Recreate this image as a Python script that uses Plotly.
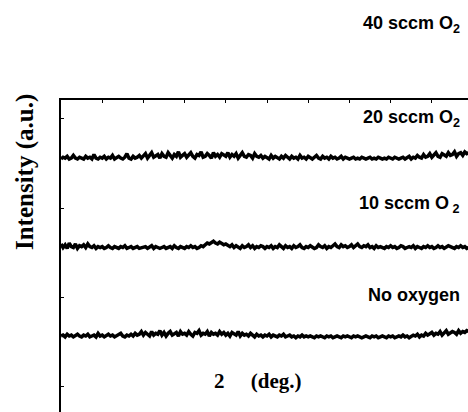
import numpy as np
import plotly.graph_objects as go

# 2-theta scan grid (deg), step 0.25
two_theta = np.round(np.arange(20.0, 70.0, 0.25), 2)

# Intensity (a.u., offset traces)
i_20sccm = [
    255,257,256,258,255,256,259,256,255,257,256,255,258,256,257,255,260,256,255,257,
    256,258,255,257,256,259,255,256,258,256,255,257,261,256,255,258,256,257,259,256,
    258,261,256,259,262,257,258,260,256,261,258,257,262,259,256,260,258,263,257,259,
    261,257,259,262,258,256,260,259,263,257,258,261,259,256,262,258,260,257,261,259,
    258,262,257,260,258,261,256,259,262,258,257,260,259,256,261,258,257,259,256,258,
    257,255,259,256,258,257,255,258,256,259,257,255,258,256,257,255,259,256,257,255,
    258,256,255,257,259,256,255,258,256,257,255,258,256,257,255,256,258,255,257,256,
    255,256,257,255,256,255,257,256,255,256,257,255,256,255,257,256,255,256,255,257,
    256,255,257,256,255,256,257,255,256,258,255,257,256,259,257,256,260,257,258,261,
    257,259,262,258,257,261,259,258,262,259,260,263,258,261,262,259,263,261,262,260,
]

i_10sccm = [
    160,156,159,155,161,157,156,160,155,158,157,159,156,160,157,156,158,155,157,156,
    157,155,156,158,156,155,157,156,155,157,156,158,155,156,157,155,156,157,155,156,
    156,157,155,156,158,155,157,156,155,156,157,155,156,157,155,158,156,155,157,156,
    155,157,156,158,156,157,155,156,158,157,159,161,160,162,163,161,160,162,161,159,
    160,158,157,159,156,158,157,155,158,156,157,159,156,158,155,157,156,158,157,155,
    157,156,158,155,157,156,159,157,155,158,156,157,155,158,156,157,159,156,155,157,
    156,158,157,155,156,159,157,156,158,155,157,156,158,160,157,156,159,157,158,156,
    157,159,156,158,160,157,156,158,157,159,156,157,155,158,156,157,156,155,157,156,
    158,156,157,155,156,158,157,155,156,157,156,158,155,157,156,155,157,156,158,156,
    157,155,156,158,156,157,155,156,158,157,156,155,157,156,158,156,157,155,156,157,
]

i_no_oxygen = [
    57,58,56,59,57,58,56,57,59,57,56,58,57,59,56,57,58,56,60,57,
    58,56,57,59,57,58,56,57,58,60,57,56,58,57,59,57,60,58,59,62,
    58,61,59,57,62,58,60,59,63,58,61,57,60,62,58,59,61,57,62,59,
    60,58,62,59,57,61,60,63,58,60,59,62,57,61,59,60,58,62,59,61,
    58,60,57,61,59,58,62,57,60,58,59,57,60,58,56,59,57,58,56,58,
    57,59,56,58,57,56,58,57,59,56,57,58,56,57,55,57,56,58,56,57,
    56,57,56,55,57,56,57,56,55,57,56,57,55,56,57,56,55,57,56,57,
    56,55,57,56,57,56,55,56,57,56,55,57,56,57,55,56,57,56,55,57,
    56,57,55,56,57,56,58,56,57,55,56,58,57,59,56,58,57,60,58,59,
    61,58,60,59,62,58,61,63,59,60,62,61,59,63,60,62,61,63,62,61,
]

labels = ["40 sccm O<sub>2</sub>", "20 sccm O<sub>2</sub>",
          "10 sccm O<sub> 2</sub>", "No oxygen"]
label_y = [1.2404, 0.9423, 0.6635, 0.375]

fig = go.Figure()
for ys in (i_no_oxygen, i_10sccm, i_20sccm):
    fig.add_trace(go.Scatter(x=two_theta, y=ys, mode="lines",
                             line=dict(color="black", width=3.5),
                             showlegend=False, hoverinfo="skip"))

for txt, yy in zip(labels, label_y):
    fig.add_annotation(text=txt, xref="paper", yref="paper", x=0.9853, y=yy,
                       xanchor="right", yanchor="middle", showarrow=False,
                       font=dict(family="Arial, Liberation Sans", size=18,
                                 color="black", weight="bold"))

fig.add_annotation(text="2&nbsp;&nbsp;&nbsp;&nbsp;&nbsp;(deg.)", xref="paper", yref="paper",
                   x=0.483, y=0.0994, xanchor="center", yanchor="middle",
                   showarrow=False,
                   font=dict(family="Liberation Serif, Times New Roman", size=21,
                             color="black", weight="bold"))
fig.add_annotation(text="Intensity (a.u.)", xref="paper", yref="paper",
                   x=-0.0885, y=0.769, xanchor="center", yanchor="middle",
                   textangle=-90, showarrow=False,
                   font=dict(family="Liberation Serif, Times New Roman", size=25,
                             color="black", weight="bold"))

fig.update_layout(
    width=468, height=412,
    margin=dict(l=61, r=0, t=100, b=0),
    paper_bgcolor="white", plot_bgcolor="white",
    xaxis=dict(range=[20, 69.39], side="top", showline=True, linecolor="black",
               linewidth=2, ticks="inside", ticklen=3, tickwidth=1,
               tickcolor="black", tick0=20, dtick=5, showticklabels=False,
               showgrid=False, zeroline=False, mirror=False),
    yaxis=dict(range=[-28, 321], showline=True, linecolor="black",
               linewidth=2, ticks="inside", ticklen=3, tickwidth=1,
               tickcolor="black", tick0=0, dtick=100, showticklabels=False,
               showgrid=False, zeroline=False, mirror=False),
)

fig.write_html("out.html")
